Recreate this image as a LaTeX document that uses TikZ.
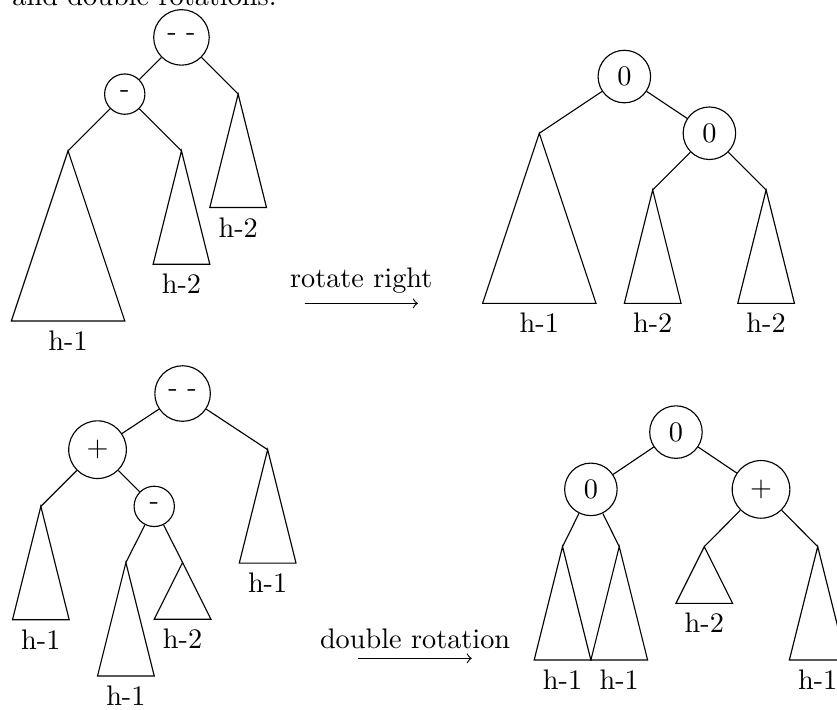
\documentclass[tikz,border=0pt]{standalone}
\usepackage{tikz}

\begin{document}
\begin{tikzpicture}[x=0.705cm, y=0.705cm, line width=0.4pt,
  bal/.style={circle, draw, inner sep=3.6pt}]
  \useasboundingbox (0,0) rectangle (14.76,12.52);
  \clip (0,0) rectangle (14.76,12.52);
  % texto de arriba (cortado)
  \node[anchor=base west, inner sep=0] (cap) at (0.21,12.42) {and double rotations.};
  % arbol 1: antes de rotar
  \node[bal] (A) at (3.2,11.86) {- -};
  \node[bal] (B) at (2.2,10.86) {-};
  \coordinate (A2) at (4.2,10.86);
  \coordinate (B1) at (1.2,9.86);
  \coordinate (B2) at (3.2,9.86);
  \draw (A) -- (B) (A) -- (A2) (B) -- (B1) (B) -- (B2);
  \draw (B1) -- ++(-1,-3) -- node[below] (tB1) {h-1} ++(2,0) -- cycle;
  \draw (B2) -- ++(-0.5,-2) -- node[below] (tB2) {h-2} ++(1,0) -- cycle;
  \draw (A2) -- ++(-0.5,-2) -- node[below] (tA2) {h-2} ++(1,0) -- cycle;
  % flecha rotar
  \coordinate (r0) at (5.37,7.17);
  \coordinate (r1) at (7.37,7.17);
  \draw[->] (r0) -- node[above] (rl) {rotate right} (r1);
  % arbol 2: despues de rotar
  \node[bal] (C) at (11.01,11.17) {0};
  \node[bal] (D) at (12.51,10.17) {0};
  \coordinate (C1) at (9.51,10.17);
  \coordinate (D1) at (11.51,9.17);
  \coordinate (D2) at (13.51,9.17);
  \draw (C) -- (C1) (C) -- (D) (D) -- (D1) (D) -- (D2);
  \draw (C1) -- ++(-1,-3) -- node[below] (tC1) {h-1} ++(2,0) -- cycle;
  \draw (D1) -- ++(-0.5,-2) -- node[below] (tD1) {h-2} ++(1,0) -- cycle;
  \draw (D2) -- ++(-0.5,-2) -- node[below] (tD2) {h-2} ++(1,0) -- cycle;
  % arbol 3: antes de doble rotacion
  \node[bal] (E) at (3.22,5.58) {- -};
  \node[bal] (F) at (1.72,4.59) {+};
  \node[bal] (G) at (2.72,3.59) {-};
  \coordinate (E2) at (4.72,4.59);
  \coordinate (F1) at (0.72,3.59);
  \coordinate (G1) at (2.22,2.60);
  \coordinate (G2) at (3.22,2.60);
  \draw (E) -- (F) (E) -- (E2) (F) -- (F1) (F) -- (G) (G) -- (G1) (G) -- (G2);
  \draw (E2) -- ++(-0.5,-2) -- node[below] (tE2) {h-1} ++(1,0) -- cycle;
  \draw (F1) -- ++(-0.5,-2) -- node[below] (tF1) {h-1} ++(1,0) -- cycle;
  \draw (G1) -- ++(-0.5,-2) -- node[below] (tG1) {h-1} ++(1,0) -- cycle;
  \draw (G2) -- ++(-0.5,-1) -- node[below] (tG2) {h-2} ++(1,0) -- cycle;
  % flecha doble
  \coordinate (d0) at (6.32,0.91);
  \coordinate (d1) at (8.32,0.91);
  \draw[->] (d0) -- node[above] (dl) {double rotation} (d1);
  % arbol 4: despues de doble rotacion
  \node[bal] (H) at (11.92,4.90) {0};
  \node[bal] (I) at (10.42,3.89) {0};
  \node[bal] (J) at (13.42,3.89) {+};
  \coordinate (I1) at (9.92,2.88);
  \coordinate (I2) at (10.92,2.88);
  \coordinate (J1) at (12.42,2.88);
  \coordinate (J2) at (14.42,2.88);
  \draw (H) -- (I) (H) -- (J) (I) -- (I1) (I) -- (I2) (J) -- (J1) (J) -- (J2);
  \draw (I1) -- ++(-0.5,-2) -- node[below] (tI1) {h-1} ++(1,0) -- cycle;
  \draw (I2) -- ++(-0.5,-2) -- node[below] (tI2) {h-1} ++(1,0) -- cycle;
  \draw (J1) -- ++(-0.5,-1) -- node[below] (tJ1) {h-2} ++(1,0) -- cycle;
  \draw (J2) -- ++(-0.5,-2) -- node[below] (tJ2) {h-1} ++(1,0) -- cycle;
\end{tikzpicture}
\end{document}
